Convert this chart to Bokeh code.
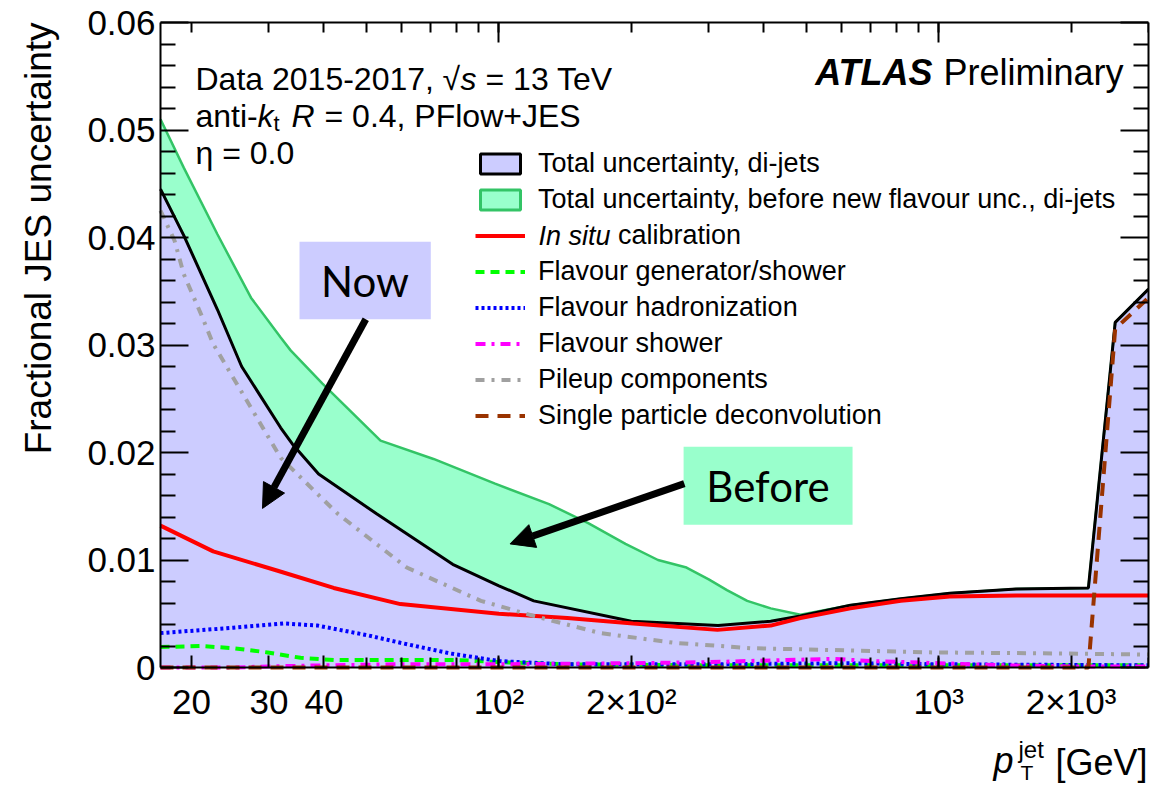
import math
from bokeh.plotting import figure
from bokeh.models import (Range1d, FixedTicker, LinearAxis, LogAxis, Label, Legend, LegendItem,
                          BoxAnnotation, Arrow, NormalHead, CustomJSTickFormatter)
from bokeh.embed import file_html
from bokeh.resources import INLINE

# ---------------- data ----------------
pt_total = [17, 19.2, 22.9, 26.0, 31.9, 33.9, 38.9, 52.7, 78.5, 100, 120, 200, 315, 415, 485,
            630, 820, 1060, 1500, 2190, 2520, 3000]
total_now = [0.0445, 0.0402, 0.0333, 0.0280, 0.0223, 0.0208, 0.0180, 0.0143, 0.0096, 0.0076,
             0.0062, 0.0043, 0.0039, 0.0043, 0.0048, 0.0058, 0.0064, 0.0069, 0.0073, 0.0074,
             0.0321, 0.0352]

pt_before = [17, 19.2, 22.9, 27.3, 31.9, 33.6, 39.7, 53.8, 71, 98, 130, 160, 194, 230, 267, 300,
             330, 367, 415, 485, 630, 820, 1060, 1500, 2190, 2520, 3000]
total_before = [0.0510, 0.0465, 0.0403, 0.0344, 0.0307, 0.0295, 0.0264, 0.0211, 0.0194, 0.0171,
                0.0152, 0.0134, 0.0115, 0.0100, 0.0093, 0.0082, 0.0072, 0.0062, 0.0055, 0.0049,
                0.0058, 0.0064, 0.0069, 0.0073, 0.0074, 0.0321, 0.0352]

pt_insitu = [17, 22.4, 31.4, 42.1, 59.7, 100, 143, 202, 314, 415, 485, 630, 820, 1060, 1500, 2000, 3000]
insitu = [0.0132, 0.0108, 0.0090, 0.0074, 0.0059, 0.0050, 0.0046, 0.0041, 0.0035, 0.0039, 0.0046,
          0.0055, 0.0062, 0.0066, 0.0067, 0.0067, 0.0067]

pt_gen = [17, 21, 24.9, 29.8, 35.4, 42.1, 60, 80, 100, 140, 300, 1000, 3000]
flav_gen = [0.0019, 0.0020, 0.0018, 0.0014, 0.0009, 0.0007, 0.0007, 0.0007, 0.0005, 0.0003,
            0.0002, 0.0002, 0.0002]

pt_hadr = [17, 24.9, 32.4, 38.7, 50.2, 59.7, 77.6, 100, 140, 300, 600, 1000, 3000]
flav_hadr = [0.0032, 0.0037, 0.0041, 0.0039, 0.0030, 0.0023, 0.0013, 0.0006, 0.0003, 0.0003,
             0.0004, 0.0003, 0.0002]

pt_shower = [17, 25, 30, 40, 60, 100, 200, 300, 450, 580, 700, 1000, 1400, 2000, 3000]
flav_shower = [0.0, 0.0, 0.0001, 0.0002, 0.0003, 0.0003, 0.0004, 0.0005, 0.0007, 0.0008, 0.0006,
               0.0004, 0.0002, 0.0001, 0.0001]

pt_pileup = [17, 18.3, 19.2, 21.0, 22.4, 31.9, 43, 61.7, 91, 120, 170, 250, 373, 477, 973, 1960, 3000]
pileup = [0.0425, 0.0397, 0.0366, 0.0329, 0.0301, 0.0195, 0.0143, 0.0093, 0.0062, 0.0048, 0.0032,
          0.0023, 0.0018, 0.0017, 0.0014, 0.0013, 0.0012]

pt_spd = [17, 2190, 2520, 3000]
single_particle = [0.0, 0.0, 0.0315, 0.0344]

x_tick_values = [20, 30, 40, 100, 200, 1000, 2000]
x_tick_labels = ["20", "30", "40", "10\u00b2", "2\u00d710\u00b2", "10\u00b3", "2\u00d710\u00b3"]
x_minor_values = [50, 60, 70, 80, 90, 300, 400, 500, 600, 700, 800, 900, 3000]
x_decades = [100, 1000]
y_tick_values = [0.0, 0.01, 0.02, 0.03, 0.04, 0.05, 0.06]
y_tick_labels = ["0", "0.01", "0.02", "0.03", "0.04", "0.05", "0.06"]
y_minor_values = [round(0.002 * i, 3) for i in range(31) if i % 5 != 0]

legend_labels = ["Total uncertainty, di-jets",
                 "Total uncertainty, before new flavour unc., di-jets",
                 "calibration",
                 "Flavour generator/shower",
                 "Flavour hadronization",
                 "Flavour shower",
                 "Pileup components",
                 "Single particle deconvolution"]

# ---------------- layout / styles ----------------
FONT = "Liberation Sans"
BLUE_FILL = "#CCCCFF"
GREEN_FILL = "#99FFCC"
GREEN_LINE = "#33C466"

W, H = 1155, 787
BOX_L, BOX_R, BOX_T, BOX_B = 160, 1148, 22, 667   # drawn axes box in page pixels
X0, X1 = 17, 3000
Y0, Y1 = 0.0, 0.06
# the plotting frame covers the page left of, above and below the box so titles are not clipped
x_lo = 10 ** (math.log10(X0) - BOX_L / (BOX_R - BOX_L) * math.log10(X1 / X0))
y_lo = Y0 - (Y1 - Y0) * (H - BOX_B) / (BOX_B - BOX_T)
y_hi = Y1 + (Y1 - Y0) * BOX_T / (BOX_B - BOX_T)

p = figure(width=W, height=H, x_axis_type="log",
           x_range=Range1d(x_lo, X1), y_range=Range1d(y_lo, y_hi),
           output_backend="svg", toolbar_location=None,
           min_border_left=0, min_border_right=W - BOX_R, min_border_top=0, min_border_bottom=0)
p.xgrid.visible = False
p.ygrid.visible = False
p.outline_line_color = None
p.background_fill_color = "white"
p.border_fill_color = "white"

# fills
p.varea(x=pt_before, y1=[0.0] * len(pt_before), y2=total_before, fill_color=GREEN_FILL)
p.varea(x=pt_total, y1=[0.0] * len(pt_total), y2=total_now, fill_color=BLUE_FILL)
p.line(pt_before, total_before, line_color=GREEN_LINE, line_width=2.5)
p.line(pt_total, total_now, line_color="black", line_width=3)

# components
r_insitu = p.line(pt_insitu, insitu, line_color="#FF0000", line_width=4)
r_gen = p.line(pt_gen, flav_gen, line_color="#00FF00", line_width=4, line_dash="9 6")
r_hadr = p.line(pt_hadr, flav_hadr, line_color="#0000FF", line_width=4, line_dash="3 3")
r_shower = p.line(pt_shower, flav_shower, line_color="#FF00FF", line_width=4, line_dash="10 6 3 6")
r_pileup = p.line(pt_pileup, pileup, line_color="#A0A0A0", line_width=4, line_dash="9 7 3 7")
r_spd = p.line(pt_spd, single_particle, line_color="#993300", line_width=4, line_dash="13 9")

# legend swatches for the two bands (no visible data)
nan = float("nan")
r_box_now = p.quad(left=[nan], right=[nan], bottom=[nan], top=[nan], fill_color=BLUE_FILL,
                   line_color="black", line_width=3)
r_box_before = p.quad(left=[nan], right=[nan], bottom=[nan], top=[nan], fill_color=GREEN_FILL,
                      line_color=GREEN_LINE, line_width=3)

# ---------------- axes ----------------
xa = p.xaxis[0]
xa.fixed_location = Y0
xa.bounds = (X0, X1)
xa.ticker = FixedTicker(ticks=x_tick_values, minor_ticks=x_minor_values + x_decades)
xa.major_label_overrides = dict(zip(x_tick_values, x_tick_labels))
xa.axis_line_color = "black"
xa.axis_line_width = 2
xa.major_tick_in = 12
xa.major_tick_out = 0
xa.minor_tick_in = 10
xa.minor_tick_out = 0
xa.major_tick_line_width = 2
xa.minor_tick_line_width = 2
xa.major_label_text_font = FONT
xa.major_label_text_font_size = "35px"
xa.major_label_text_color = "black"
xa.major_label_standoff = 14

ya = p.yaxis[0]
ya.fixed_location = X0
ya.bounds = (Y0, Y1)
ya.ticker = FixedTicker(ticks=y_tick_values, minor_ticks=y_minor_values)
ya.major_label_overrides = dict(zip(y_tick_values, y_tick_labels))
ya.axis_line_color = "black"
ya.axis_line_width = 2
ya.major_tick_in = 28
ya.major_tick_out = 0
ya.minor_tick_in = 15
ya.minor_tick_out = 0
ya.major_tick_line_width = 2
ya.minor_tick_line_width = 2
ya.major_label_text_font = FONT
ya.major_label_text_font_size = "35px"
ya.major_label_text_color = "black"
ya.major_label_standoff = 5

blank = CustomJSTickFormatter(code="return ''")
top_axis = LogAxis(ticker=FixedTicker(ticks=x_decades, minor_ticks=x_tick_values + x_minor_values),
                   formatter=blank, bounds=(X0, X1), fixed_location=Y1,
                   axis_line_color="black", axis_line_width=2,
                   major_tick_in=20, major_tick_out=0, minor_tick_in=10, minor_tick_out=0,
                   major_tick_line_width=2, minor_tick_line_width=2, major_label_standoff=0)
p.add_layout(top_axis, "above")
right_axis = LinearAxis(ticker=FixedTicker(ticks=y_tick_values, minor_ticks=y_minor_values),
                        formatter=blank, bounds=(Y0, Y1), axis_line_color="black", axis_line_width=2,
                        major_tick_in=28, major_tick_out=0, minor_tick_in=15, minor_tick_out=0,
                        major_tick_line_width=2, minor_tick_line_width=2, major_label_standoff=0)
p.add_layout(right_axis, "right")

# ---------------- legend (three blocks so that "In situ" can be italic) ----------------
ROW_H, ROW_GAP = 31, 5
LEG_X, LEG_TOP = 475, 147.5


def add_legend(items, first_row, standoff=13):
    n = len(items)
    top = LEG_TOP + first_row * (ROW_H + ROW_GAP)
    bottom = top + n * ROW_H + (n - 1) * ROW_GAP
    p.add_layout(Legend(items=items, location=(LEG_X, H - bottom), padding=0,
                        margin=0, spacing=ROW_GAP, glyph_width=50, glyph_height=25,
                        label_height=25, label_standoff=standoff, label_text_font=FONT,
                        label_text_font_size="27px", label_text_color="black",
                        background_fill_alpha=0, border_line_color=None))


add_legend([LegendItem(label=legend_labels[0], renderers=[r_box_now]),
            LegendItem(label=legend_labels[1], renderers=[r_box_before])], 0)
add_legend([LegendItem(label=legend_labels[2], renderers=[r_insitu])], 2, standoff=13 + 80)
add_legend([LegendItem(label=legend_labels[3], renderers=[r_gen]),
            LegendItem(label=legend_labels[4], renderers=[r_hadr]),
            LegendItem(label=legend_labels[5], renderers=[r_shower]),
            LegendItem(label=legend_labels[6], renderers=[r_pileup]),
            LegendItem(label=legend_labels[7], renderers=[r_spd])], 3)


# ---------------- texts ----------------
def txt(text, x, y, dx, dy, size, style="normal", align="left", font=FONT, angle=0.0,
        baseline="alphabetic"):
    p.add_layout(Label(x=x, y=y, x_offset=dx, y_offset=dy, text=text, text_font=font,
                       text_font_size=size, text_font_style=style, text_align=align,
                       text_baseline=baseline, text_color="black", angle=angle))


# italic part of the third legend entry
txt("In situ", X0, Y1, 538 - BOX_L, -(LEG_TOP + 2 * (ROW_H + ROW_GAP) + ROW_H / 2 - BOX_T),
    "27px", style="italic", baseline="middle")

# top-left info block (anchored to the box's top-left corner)
txt("Data 2015-2017,", X0, Y1, 35, -56, "32px")
txt("\u221a", X0, Y1, 282, -56, "32px")
txt("s", X0, Y1, 300, -56, "32px", style="italic")
txt("= 13 TeV", X0, Y1, 325, -56, "32px")
txt("anti-", X0, Y1, 35, -93, "32px")
txt("k", X0, Y1, 97, -93, "32px", style="italic")
txt("t", X0, Y1, 113, -101, "22px")
txt("R", X0, Y1, 131, -93, "32px", style="italic")
txt("= 0.4, PFlow+JES", X0, Y1, 164, -93, "32px")
txt("\u03b7 = 0.0", X0, Y1, 35, -130, "32px")

# ATLAS Preliminary (anchored to top-right corner)
txt("ATLAS", X1, Y1, -216, -50, "36px", style="bold italic", align="right")
txt("Preliminary", X1, Y1, -25, -50, "36px", align="right")

# axis titles
txt("Fractional JES uncertainty", X0, Y1, -122, 0, "37px", align="right", angle=math.pi / 2)
txt("p", X1, Y0, -155, -93, "36px", style="italic")
txt("jet", X1, Y0, -130, -82, "24px")
txt("T", X1, Y0, -128, -105, "21px")
txt("[GeV]", X1, Y0, -1, -95, "36px", align="right")

# ---------------- "Now" / "Before" call-outs ----------------
p.add_layout(BoxAnnotation(left=35.2, right=70.0, bottom=0.0324, top=0.0396,
                           fill_color=BLUE_FILL, fill_alpha=1.0, line_color=None))
p.add_layout(BoxAnnotation(left=263, right=637, bottom=0.01327, top=0.02053,
                           fill_color=GREEN_FILL, fill_alpha=1.0, line_color=None))
txt("Now", 49.6, 0.0360, 0, 0, "42px", align="center", font="Lato", baseline="middle")
txt("Before", 409, 0.0169, 0, 0, "42px", align="center", font="Lato", baseline="middle")

p.add_layout(Arrow(end=NormalHead(size=24, fill_color="black", line_color="black"),
                   x_start=49.8, y_start=0.0324, x_end=29.0, y_end=0.0148,
                   line_color="black", line_width=7))
p.add_layout(Arrow(end=NormalHead(size=24, fill_color="black", line_color="black"),
                   x_start=264, y_start=0.0171, x_end=106, y_end=0.0115,
                   line_color="black", line_width=7))

open("out.html", "w").write(file_html(p, INLINE))
